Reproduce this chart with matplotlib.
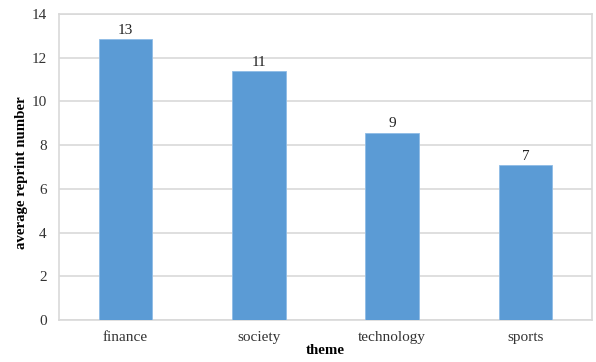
import matplotlib.pyplot as plt
import numpy as np

# data
themes = ['finance', 'society', 'technology', 'sports']
avg_reprint = [12.87, 11.39, 8.57, 7.08]
bar_labels = ['13', '11', '9', '7']

plt.rcParams['font.family'] = ['Liberation Serif', 'DejaVu Serif']

fig = plt.figure(figsize=(5.96, 3.62), dpi=100)
ax = fig.add_axes([59 / 596, 1 - 320 / 362, 533 / 596, 306 / 362])

x = np.arange(len(themes))
bars = ax.bar(x, avg_reprint, width=0.4, color='#5b9bd5', edgecolor='#8fbce6',
              linewidth=0.6, zorder=3)
for b, lab in zip(bars, bar_labels):
    ax.text(b.get_x() + b.get_width() / 2, b.get_height() + 0.1, lab,
            ha='center', va='bottom', fontsize=11, color='#222222')

ax.set_xlim(-0.5, len(themes) - 0.5)
ax.set_ylim(0, 14)
ax.set_yticks(range(0, 15, 2))
ax.set_xticks(x)
ax.set_xticklabels(themes)
ax.tick_params(axis='both', length=0, labelsize=11, colors='#333333')
ax.tick_params(axis='x', pad=8)
ax.tick_params(axis='y', pad=9)

ax.grid(axis='y', color='#d9d9d9', linewidth=1.2, zorder=0)
for s in ax.spines.values():
    s.set_color('#d9d9d9')
    s.set_linewidth(1.2)

ax.set_ylabel('average reprint number', fontsize=10.7, fontweight='bold')
ax.yaxis.set_label_coords(-0.058, 0.48)
ax.set_xlabel('theme', fontsize=10.7, fontweight='bold', labelpad=0)

fig.savefig('out.png', dpi=100)
